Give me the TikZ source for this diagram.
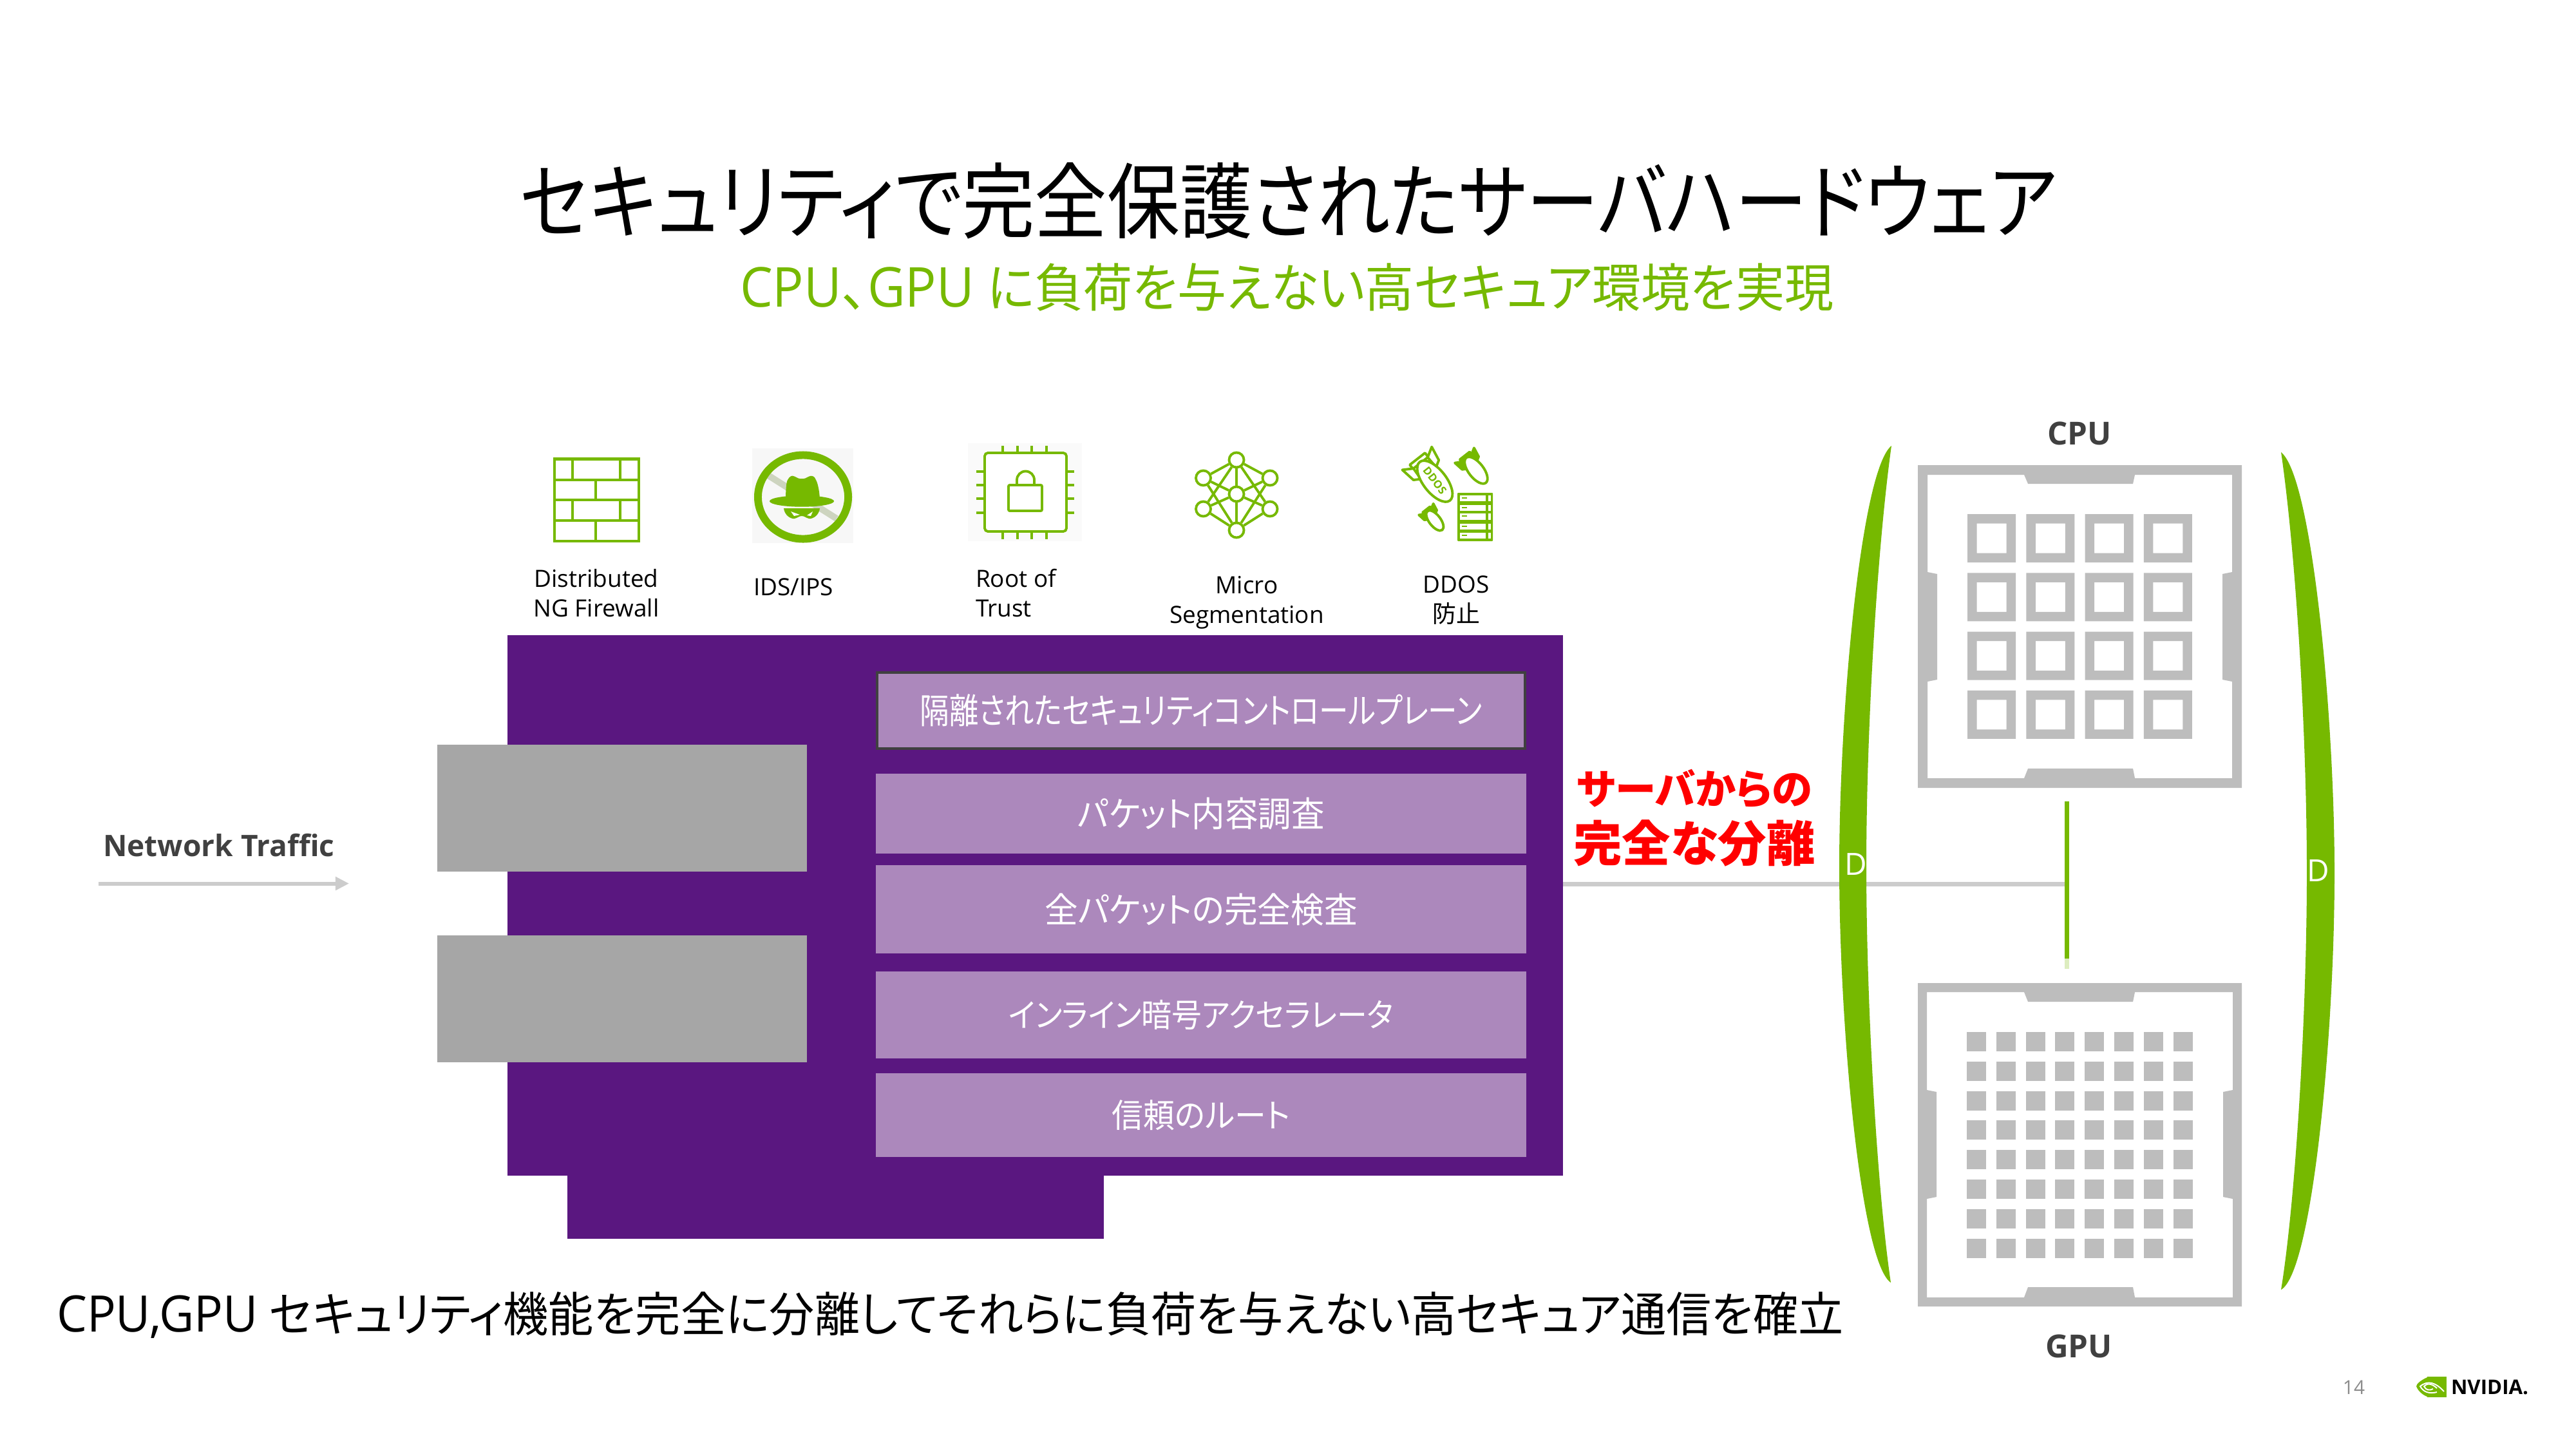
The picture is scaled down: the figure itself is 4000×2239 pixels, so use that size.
\documentclass[tikz,border=0pt]{standalone}
\usepackage{fontspec}
\usepackage{graphicx}
\usetikzlibrary{arrows.meta}
\setmainfont{Open Sans}
\newfontfamily\jp[RawFeature={+palt}]{Noto Sans CJK JP}
\definecolor{nvgreen}{HTML}{76B900}
\definecolor{boardp}{HTML}{5A1780}
\definecolor{lightp}{HTML}{AC88BC}
\definecolor{slot}{HTML}{A6A6A6}
\definecolor{sock}{HTML}{BDBDBD}
\definecolor{wire}{HTML}{CCCCCC}
\definecolor{ink}{HTML}{404040}
\newcommand{\fitw}[2]{\resizebox{#1cm}{!}{#2}}
\newcommand{\fitv}[3]{\resizebox{#1cm}{!}{\scalebox{1}[#2]{#3}}}
\tikzset{
  txt/.style={inner sep=0pt,outer sep=0pt,anchor=center},
  lab/.style={txt,align=center,text=black,font=\fontsize{10.5}{13.1}\selectfont},
  boardbox/.style={fill=boardp,draw=none,inner sep=0pt},
  slotbox/.style={fill=slot,draw=none,inner sep=0pt},
  layer/.style={fill=lightp,draw=none,inner sep=0pt,text=white},
  icon/.style={draw=nvgreen,line width=1.1pt},
  netnode/.style={circle,draw=nvgreen,fill=white,line width=1.1pt,minimum size=0.23cm,inner sep=0pt},
  bombline/.style={draw=nvgreen,fill=white,line width=1.1pt,line join=round},
  bombfin/.style={draw=nvgreen,fill=nvgreen,line width=1.1pt,line join=round},
}
% x, y, scale, fin style
\newcommand{\bomb}[4]{%
  \begin{scope}[shift={(#1,#2)},rotate=-52,x=#3*0.01cm,y=-#3*0.01cm]
    \draw[#4] (-36,-14) -- (-45,-29) -- (-22,-25) -- (-16,-15) -- cycle;
    \draw[#4] (-36,14) -- (-45,29) -- (-22,25) -- (-16,15) -- cycle;
    \draw[#4] (-44,-15) rectangle (-36,15);
    \draw[bombline] (0,0) ellipse [x radius=#3*0.38cm,y radius=#3*0.18cm];
  \end{scope}}
\begin{document}
\begin{tikzpicture}[x=0.01cm,y=-0.01cm]
\useasboundingbox (0,0) rectangle (4000,2239);
\fill[white] (0,0) rectangle (4000,2239);

% titles
\node[txt] (title) at (2001,312) {\fitv{23.85}{1.14}{\jp セキュリティで完全保護されたサーバハードウェア}};
\node[txt,text=nvgreen] (subtitle) at (1998,446) {\fitv{16.97}{1.06}{\scalebox{1.06}{CPU{\jp 、}GPU} {\jp に負荷を与えない高セキュア環境を実現}}};

% board
\fill[boardp] (881,1800) rectangle (1714,1923);
\node[boardbox,minimum width=16.38cm,minimum height=8.39cm] (board) at (1607,1405.5) {};
\node[slotbox,minimum width=5.74cm,minimum height=1.97cm] (slotA) at (966,1254.5) {};
\node[slotbox,minimum width=5.74cm,minimum height=1.97cm] (slotB) at (966,1550.5) {};

\node[layer,draw=ink,line width=1.1pt,minimum width=10.06cm,minimum height=1.18cm] (l1) at (1865,1103) {\fitv{8.72}{1.2}{\jp 隔離されたセキュリティコントロールプレーン}};
\node[layer,minimum width=10.1cm,minimum height=1.24cm] (l2) at (1865,1263) {\fitv{3.83}{1.05}{\jp パケット内容調査}};
\node[layer,minimum width=10.1cm,minimum height=1.37cm] (l3) at (1865,1411.5) {\fitv{4.85}{1.05}{\jp 全パケットの完全検査}};
\node[layer,minimum width=10.1cm,minimum height=1.35cm] (l4) at (1865,1575.5) {\fitv{5.97}{1.08}{\jp インライン暗号アクセラレータ}};
\node[layer,minimum width=10.1cm,minimum height=1.30cm] (l5) at (1865,1731) {\fitv{2.76}{1.05}{\jp 信頼のルート}};

% connectors
\coordinate (netA) at (153,1371.5);
\coordinate (netB) at (542,1371.5);
\draw[wire,line width=1.7pt,-{Triangle[length=0.21cm,width=0.2cm]}] (netA) -- (netB);
\coordinate (busTop) at (3209.5,1244);
\coordinate (busFade) at (3209.5,1488);
\coordinate (busEnd) at (3209.5,1504);
\coordinate (busJoin) at (3206,1372);
\draw[wire,line width=2pt] (board.east |- busJoin) -- (busJoin);
\draw[nvgreen,line width=2pt] (busTop) -- (busFade);
\draw[nvgreen!25,line width=2pt] (busFade) -- (busEnd);

% labels
\node[txt] (nettxt) at (340,1312) {\fitw{3.59}{\textcolor{ink}{\bfseries Network Traffic}}};
\node[txt,text=red] (sep1) at (2631,1224) {\fitw{3.65}{\jp\bfseries サーバからの}};
\node[txt,text=red] (sep2) at (2631,1309) {\fitw{3.75}{\jp\bfseries 完全な分離}};
\node[txt] (bottomtxt) at (1475.5,2041) {\fitv{27.73}{1.05}{\scalebox{1.06}{CPU,GPU} {\jp セキュリティ機能を完全に分離してそれらに負荷を与えない高セキュア通信を確立}}};

\node[lab] (lfw) at (926,921) {Distributed\\NG Firewall};
\node[lab] (lids) at (1232,911) {IDS/IPS};
\node[lab,align=left,anchor=west] (lroot) at (1515,921) {Root of\\Trust};
\node[lab] (lmicro) at (1936,935) {Micro\\Segmentation};
\node[lab] (lddos) at (2261,932) {DDOS\\{\jp 防止}};

% firewall icon
\draw[icon] (861,712) rectangle (992,840);
\fill[nvgreen] (859,710) rectangle (994,715);
\fill[nvgreen] (859,838) rectangle (994,842);
\foreach \yy in {745,776,808}{\draw[icon] (861,\yy) -- (992,\yy);}
\foreach \xx in {889,963}{\draw[icon] (\xx,712) -- (\xx,745); \draw[icon] (\xx,776) -- (\xx,808);}
\draw[icon] (925,745) -- (925,776);
\draw[icon] (925,808) -- (925,840);

% IDS icon
\fill[black!3] (1168,696) rectangle (1325,843);
\draw[nvgreen!45!black!25!white,line width=2.85pt] (1193,738) -- (1299,805);
\draw[nvgreen,line width=3.4pt] (1247,771.5) ellipse [x radius=0.70cm,y radius=0.65cm];
\fill[nvgreen] (1220,778) .. controls (1220,760) and (1221,748) .. (1223,745) .. controls (1226,739) and (1230,738) .. (1232,739) .. controls (1236,740) and (1239,743) .. (1242,743) -- (1248,743) .. controls (1251,743) and (1254,740) .. (1258,739) .. controls (1262,738) and (1265,740) .. (1267,745) .. controls (1270,750) and (1273,765) .. (1273,778) -- cycle;
\fill[nvgreen] (1245,778) ellipse [x radius=0.5cm,y radius=0.087cm];
\fill[nvgreen] (1217,789) -- (1273,789) .. controls (1272,799) and (1263,806) .. (1256,805) .. controls (1252,804) and (1249,801) .. (1245,801) .. controls (1241,801) and (1238,804) .. (1234,805) .. controls (1227,806) and (1218,799) .. (1217,789) -- cycle;
\fill[white] (1228,794) -- (1242,799) -- (1233,801) -- cycle;
\fill[white] (1262,794) -- (1253,800) -- (1259,801) -- cycle;

% root of trust icon
\fill[black!2] (1503,688) rectangle (1680,840);
\draw[icon,rounded corners=0.05cm,fill=white] (1529,703) rectangle (1656,825);
\foreach \xx in {1557,1580,1602,1625}{\draw[icon] (\xx,692) -- (\xx,703); \draw[icon] (\xx,825) -- (\xx,837);}
\foreach \yy in {732,753,774,796}{\draw[icon] (1516,\yy) -- (1529,\yy); \draw[icon] (1656,\yy) -- (1668,\yy);}
\draw[icon,rounded corners=0.02cm] (1566,753) rectangle (1618,793);
\draw[icon] (1579,753) -- (1579,745) arc[start angle=180,end angle=0,x radius=0.135cm,y radius=0.135cm] -- (1606,753);

% micro segmentation icon
\node[netnode] (n1) at (1920,714) {};
\node[netnode] (n2) at (1868.5,742) {};
\node[netnode] (n3) at (1972,742) {};
\node[netnode] (n4) at (1920,767) {};
\node[netnode] (n5) at (1868.5,790) {};
\node[netnode] (n6) at (1972,790) {};
\node[netnode] (n7) at (1920,823) {};
\foreach \a/\b in {n1/n2,n1/n3,n1/n4,n1/n5,n1/n6,n7/n5,n7/n6,n7/n4,n7/n2,n7/n3,n4/n2,n4/n3,n4/n5,n4/n6}{\draw[nvgreen,line width=1.1pt] (\a) -- (\b);}

% DDOS icon
\bomb{2228}{747}{1}{bombline}
\node[txt,rotate=-52,text=nvgreen,font=\fontsize{4.8}{6}\bfseries\selectfont] (ddosmark) at (2228,746) {DDOS};
\bomb{2292}{730}{0.65}{bombfin}
\bomb{2228}{808}{0.49}{bombfin}
\fill[nvgreen,rounded corners=0.01cm] (2263,765) rectangle (2318,840);
\foreach \yy/\yb in {769/778,784/793,797/807,813/822,827/836}{
  \fill[white] (2267,\yy) rectangle (2307,\yb);
  \fill[white] (2311,\yy) rectangle (2315,\yb);
  \fill[nvgreen] (2270,\yy+3) rectangle (2278,\yy+5);}

% arcs
\fill[nvgreen] (2937,692) .. controls (2890,730) and (2856,1100) .. (2856,1345) .. controls (2856,1600) and (2890,1960) .. (2936,1991) .. controls (2915,1850) and (2898,1560) .. (2898,1345) .. controls (2898,1130) and (2915,850) .. (2937,692) -- cycle;
\fill[nvgreen] (3542,702) .. controls (3590,740) and (3625,1110) .. (3625,1355) .. controls (3625,1610) and (3590,1975) .. (3542,2002) .. controls (3565,1860) and (3582,1570) .. (3582,1355) .. controls (3582,1140) and (3565,860) .. (3542,702) -- cycle;
\node[txt,text=white,font=\fontsize{13.5}{16}\selectfont] (dL) at (2882,1342) {D};
\node[txt,text=white,font=\fontsize{13.5}{16}\selectfont] (dR) at (3600,1352) {D};

% CPU socket
\fill[sock,even odd rule]
 (2978,722) rectangle (3481,1223)
 (2993,737) -- (3143,737) -- (3149,751) -- (3312,751) -- (3315,737) -- (3466,737) -- (3466,888) -- (3451,891) -- (3451,1055) -- (3466,1058) -- (3466,1208) -- (3315,1208) -- (3312,1193) -- (3149,1193) -- (3143,1208) -- (2993,1208) -- (2993,1058) -- (3008,1055) -- (3008,891) -- (2993,888) -- cycle;
\foreach \i in {0,1,2,3}{\foreach \j in {0,1,2,3}{
  \fill[sock,even odd rule] ({3055+91.3*\i},{798+91.3*\j}) rectangle ++(75,75) ({3069.5+91.3*\i},{812.5+91.3*\j}) rectangle ++(46,46);}}
\node[txt,text=ink,font=\fontsize{14}{16}\bfseries\selectfont] (cpu) at (3229,673) {CPU};

% GPU socket
\fill[sock,even odd rule]
 (2978,1526) rectangle (3481,2028)
 (2992,1540) -- (3143,1540) -- (3149,1555) -- (3312,1555) -- (3315,1540) -- (3467,1540) -- (3467,1692) -- (3452,1695) -- (3452,1858) -- (3467,1861) -- (3467,2014) -- (3315,2014) -- (3312,1998) -- (3149,1998) -- (3143,2014) -- (2992,2014) -- (2992,1861) -- (3007,1858) -- (3007,1695) -- (2992,1692) -- cycle;
\foreach \i in {0,...,7}{\foreach \j in {0,...,7}{
  \fill[sock] ({3054+45.8*\i},{1602+45.8*\j}) rectangle ++(30,30);}}
\node[txt,text=ink,font=\fontsize{14}{16}\bfseries\selectfont] (gpu) at (3228,2090) {GPU};

% footer
\node[txt,text=black!45,font=\fontsize{8.5}{10}\selectfont] (page) at (3655,2154) {14};
\fill[nvgreen] (3769,2137) rectangle (3799,2169);
\fill[nvgreen] (3769,2138) .. controls (3760,2142) and (3752,2148) .. (3752,2152) .. controls (3755,2160) and (3763,2166) .. (3769,2168) -- cycle;
\draw[white,line width=0.55pt] (3795,2160) .. controls (3782,2146) and (3770,2142) .. (3758,2152) .. controls (3763,2161) and (3772,2164) .. (3784,2161);
\draw[white,line width=0.55pt] (3784,2155) .. controls (3776,2147) and (3768,2147) .. (3764,2152) .. controls (3767,2158) and (3772,2159) .. (3778,2156);
\node[txt,anchor=west] (nvlogo) at (3806,2153) {\fitw{1.2}{\bfseries NVIDIA.}};
\end{tikzpicture}
\end{document}
